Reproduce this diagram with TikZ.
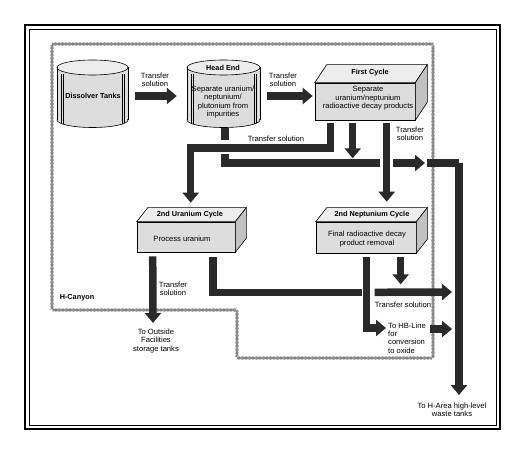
\documentclass[tikz,border=0pt]{standalone}
\usepackage{fontspec}
\setmainfont{Liberation Sans}
\usetikzlibrary{arrows.meta,decorations.pathmorphing,calc}
\definecolor{flowc}{HTML}{2A2A2A}
\definecolor{boxfront}{HTML}{DDDDDD}
\definecolor{boxtop}{HTML}{EDEDED}
\definecolor{boxside}{HTML}{C2C2C2}
\definecolor{zigc}{HTML}{7A7A7A}
\tikzset{
  flow/.style={draw=flowc, line width=7.5pt, line join=miter, -{Triangle[width=16pt,length=10pt]}},
  flowbar/.style={draw=flowc, line width=7.5pt, line join=miter},
  lbl/.style={font=\fontsize{7.6}{8.4}\selectfont, align=center, inner sep=0pt},
  hdr/.style={font=\bfseries\fontsize{7.3}{8.4}\selectfont, align=center, inner sep=0pt},
  front/.style={draw, fill=boxfront, line width=0.6pt, inner sep=0pt},
  cylanchor/.style={inner sep=0pt, minimum width=#1},
  zigline/.style={draw=zigc, line width=0.5pt, decorate, decoration={zigzag, amplitude=1.3pt, segment length=2.8pt}},
}
\newcommand{\boxthreed}[3]{%
  \filldraw[fill=boxtop, line width=0.6pt] (#1.north west) -- ++(#2,#3) -- ($(#1.north east)+(#2,#3)$) -- (#1.north east) -- cycle;
  \filldraw[fill=boxside, line width=0.6pt] (#1.north east) -- ($(#1.north east)+(#2,#3)$) -- ($(#1.south east)+(#2,#3)$) -- (#1.south east) -- cycle;
}
\newcommand{\cylshape}[5]{% x1 x2 ytop ybot ry
  \fill[boxfront] (#1,#3) rectangle (#2,#4);
  \fill[boxfront] ({(#1+#2)/2},#4) ellipse [x radius={(#2-#1)/2}, y radius=#5];
  \fill[boxtop] ({(#1+#2)/2},#3) ellipse [x radius={(#2-#1)/2}, y radius=#5];
  \draw[line width=0.6pt] ({(#1+#2)/2},#3) ellipse [x radius={(#2-#1)/2}, y radius=#5];
  \draw[line width=0.6pt] (#1,#3) -- (#1,#4) (#2,#3) -- (#2,#4);
  \begin{scope}
    \clip (#1-2,#4) rectangle (#2+2,#4+#5+2);
    \draw[line width=0.6pt] ({(#1+#2)/2},#4) ellipse [x radius={(#2-#1)/2}, y radius=#5];
  \end{scope}
  \draw[line width=0.4pt] (#1+4,#3+7) -- (#1+4,#4+3) (#1+6,#3+7) -- (#1+6,#4+4)
        (#2-4,#3+7) -- (#2-4,#4+3) (#2-6,#3+7) -- (#2-6,#4+4);
}
\begin{document}
\begin{tikzpicture}[x=1pt,y=-1pt]
\useasboundingbox (0,0) rectangle (530,462);
\fill[white] (0,0) rectangle (530,462);
% frame
\draw[line width=1.6pt] (25,25) rectangle (500,429);
\draw[line width=0.6pt] (29,29) rectangle (496,425);
% H-Canyon boundary
\draw[zigline] (52,44) -- (433,44) -- (433,358) -- (237,358) -- (237,310) -- (52,310) -- cycle;
\draw[zigline, decoration={mirror}] (52,44) -- (433,44) -- (433,358) -- (237,358) -- (237,310) -- (52,310) -- cycle;
\node[hdr] (hc) at (77,298) {H-Canyon};
% cylinders
\cylshape{57}{128}{67.5}{120}{7.5}
\cylshape{187}{260}{67.5}{120}{7.5}
\node[cylanchor=71pt, minimum height=60pt] (dt) at (92.5,96) {};
\node[hdr] (dtt) at (93,96) {Dissolver Tanks};
\node[cylanchor=73pt, minimum height=60pt] (he) at (223.5,96) {};
\node[hdr] (het) at (223,68) {Head End};
\node[lbl] (heb) at (223,102) {Separate uranium/\\neptunium/\\plutonium from\\impurities};
% boxes
\node[front, minimum width=100pt, minimum height=37pt] (fc) at (365,101.5) {};
\boxthreed{fc}{12}{-18}
\node[hdr] (fct) at (370,73) {First Cycle};
\node[lbl] (fcb) at (368,98.5) {Separate\\uranium/neptunium\\radioactive decay products};
\node[front, minimum width=98pt, minimum height=30pt] (ur) at (186,237) {};
\boxthreed{ur}{11}{-14}
\node[hdr] (urt) at (190,215) {2nd Uranium Cycle};
\node[lbl] (urb) at (182,239) {Process uranium};
\node[front, minimum width=100pt, minimum height=31pt] (np) at (366,237.5) {};
\boxthreed{np}{11}{-14}
\node[hdr] (npt) at (372,215) {2nd Neptunium Cycle};
\node[lbl] (npb) at (367,239) {Final radioactive decay\\product removal};
% labels
\node[lbl] (tl1) at (155,80) {Transfer\\solution};
\node[lbl] (tl2) at (283,80) {Transfer\\solution};
\node[lbl] (tl3) at (276,139) {Transfer solution};
\node[lbl] (tl4) at (410,134) {Transfer\\solution};
\node[lbl] (tl5) at (173,289) {Transfer\\solution};
\node[lbl] (tl6) at (403,305) {Transfer solution};
\node[lbl, align=left, anchor=west] (hb) at (388,338) {To HB-Line\\for\\conversion\\to oxide};
\node[lbl] (os) at (156,341) {To Outside\\Facilities\\storage tanks};
\node[lbl] (ha) at (452,410) {To H-Area high-level\\waste tanks};
% coordinates for free ends
\coordinate (wj) at (459,163);
\coordinate (wt) at (459,395);
\coordinate (outt) at (153,323);
% flows top row
\draw[flow, shorten <=7pt, shorten >=10pt] (dt.east) -- (he.west);
\draw[flow, shorten <=7pt, shorten >=2pt] (he.east) -- (he.east -| fc.west);
% from first cycle
\draw[flow] ($(fc.south west)+(16,3)$) -- ++(0,24.5) -| ($(ur.north west)+(54,-19)$);
\draw[flow] ($(fc.south west)+(38,3)$) -- ($(fc.south west)+(38,38)$);
\draw[flow] ($(fc.south west)+(72,3)$) -- ($(np.north west)+(71,-20)$);
% head end stub and waste line
\draw[flowbar] ($(he.south)+(1.5,2)$) -- ++(0,12);
\draw[flowbar] ($(he.south)+(1.5,28)$) |- ($(wj)+(-79,0)$);
\draw[flow] ($(wj)+(-66,0)$) -- ($(wj)+(-34,0)$);
\draw[flowbar] ($(wj)+(-32,0)$) -- (wj);
\draw[flow] (wj) -- (wt);
% from uranium cycle
\draw[flow] ($(ur.south west)+(16,4)$) -- (outt);
\draw[flowbar] ($(ur.south west)+(76.5,5)$) |- ($(np.south west)+(46,39)$);
\draw[flow] ($(np.south west)+(59,39)$) -- ($(wj)+(-7,129)$);
% from neptunium cycle
\draw[flow] ($(np.south west)+(51,4)$) |- ($(hb.west)+(-2,-10)$);
\draw[flow] ($(np.south west)+(85,4)$) -- ($(np.south west)+(85,31)$);
\draw[flow] ($(wj)+(-29,166)$) -- ($(wj)+(-7,166)$);
\end{tikzpicture}
\end{document}
